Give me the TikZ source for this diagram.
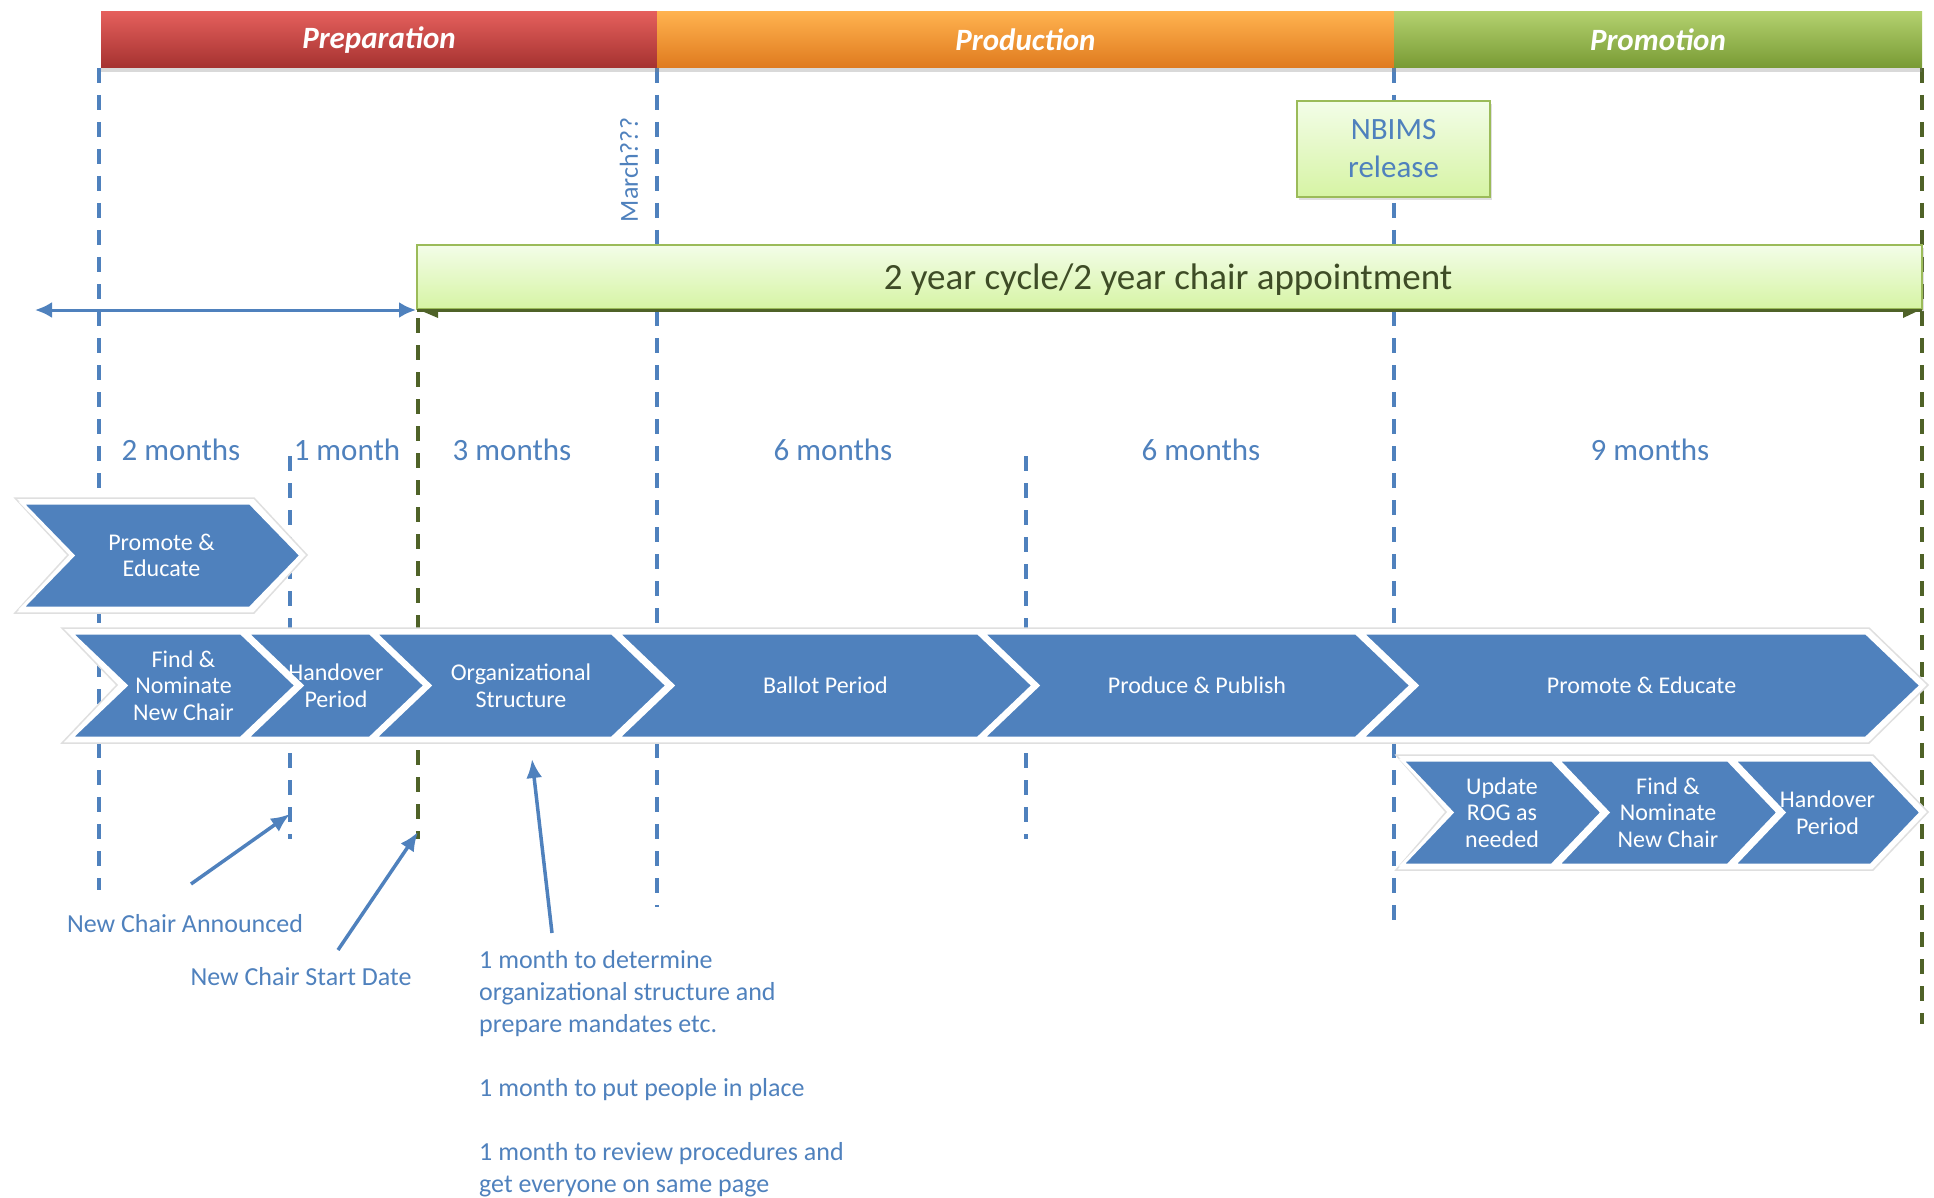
\documentclass[tikz,border=0pt]{standalone}
\usepackage{fontspec}
\setmainfont{Carlito}
\usetikzlibrary{arrows.meta,shadows,calc}
\definecolor{blueC}{HTML}{4F81BD}
\definecolor{oliveD}{HTML}{4F6228}
\definecolor{redT}{HTML}{E45F5C}
\definecolor{redM}{HTML}{C8403D}
\definecolor{redB}{HTML}{A53230}
\definecolor{orT}{HTML}{FFB24F}
\definecolor{orM}{HTML}{F7922E}
\definecolor{orB}{HTML}{DF7A1E}
\definecolor{grT}{HTML}{B3D16E}
\definecolor{grM}{HTML}{97BD4F}
\definecolor{grB}{HTML}{789A34}
\definecolor{lgT}{HTML}{F3FDE8}
\definecolor{lgB}{HTML}{D6F4A4}
\definecolor{lgD}{HTML}{9BBB59}
\definecolor{barText}{HTML}{3E4C26}
\newcommand\chev[7]{% name, x0, x1, ytop, ybot, depth, text
  \path[chev] (#2,#4) -- (#3,#4) -- ({#3+#6},{(#4+#5)/2}) -- (#3,#5) -- (#2,#5) -- ({#2+#6},{(#4+#5)/2}) -- cycle;
  \node[chevtext] (#1) at ({(#2+#3+#6)/2},{(#4+#5)/2}) {#7};
}
\begin{document}
\begin{tikzpicture}[x=1pt,y=-1pt,
  vdash/.style={line width=3.5pt, dash pattern=on 15pt off 12pt},
  bluedash/.style={vdash, draw=blueC},
  greendash/.style={vdash, draw=oliveD},
  phase/.style={draw=none, inner sep=0pt, drop shadow={shadow xshift=0pt,shadow yshift=-4pt,opacity=0.3},
    font=\fontsize{31}{34}\selectfont\bfseries\itshape, text=white, minimum height=56pt},
  chev/.style={fill=blueC, draw=white, line width=3pt, line join=miter},
  chevtext/.style={font=\fontsize{24}{26.5}\selectfont, text=white, align=center, inner sep=0pt},
  rowoutline/.style={draw=gray!25, fill=white, line width=1.5pt, line join=miter},
  lbl/.style={font=\fontsize{31}{36}\selectfont, text=blueC, inner sep=0pt},
  note/.style={font=\fontsize{26}{32}\selectfont, text=blueC, align=left, inner sep=0pt},
  pointer/.style={draw=blueC, line width=3.5pt, -{Latex[length=19pt,width=16pt]}},
  lightbox/.style={top color=lgT, bottom color=lgB, draw=lgD, line width=2pt,
    drop shadow={shadow xshift=2pt,shadow yshift=-3pt,opacity=0.25}},
]
\useasboundingbox (0,0) rectangle (1934,1198);

% vertical dashed guides
\draw[bluedash] (99,68) -- (99,890);
\draw[bluedash] (290,456) -- (290,839);
\draw[greendash] (418,318) -- (418,839);
\draw[bluedash] (657,68) -- (657,907);
\draw[bluedash] (1026,456) -- (1026,839);
\draw[bluedash] (1394,68) -- (1394,931);
\draw[greendash] (1922,68) -- (1922,1024);

% phase bars
\node[phase, minimum width=556pt, top color=redT, middle color=redM, bottom color=redB] (prep) at (379,40) {\raisebox{-2pt}{Preparation}};
\node[phase, minimum width=737pt, top color=orT, middle color=orM, bottom color=orB] (prod) at (1025.5,40) {Production};
\node[phase, minimum width=528pt, top color=grT, middle color=grM, bottom color=grB] (prom) at (1658,40) {Promotion};

% NBIMS release box
\node[lightbox, minimum width=193pt, minimum height=96pt, inner sep=0pt, align=center,
  font=\fontsize{31}{38}\selectfont, text=blueC] (nbims) at (1393.5,149) {NBIMS\\release};

% two-year bar
\node[lightbox, minimum width=1505pt, minimum height=64pt, inner sep=0pt] (twoyear) at (1169.5,277) {};
\node[font=\fontsize{37}{40}\selectfont, text=barText, inner sep=0pt] (twoyeartext) at (1168,280) {2 year cycle/2 year chair appointment};
\draw[oliveD, line width=3pt] (417,310) -- (1922,310);
\fill[oliveD] (417,309) -- (438,309) -- (438,318) -- cycle;
\fill[oliveD] (1903,309) -- (1922,309) -- (1903,318) -- cycle;

% double arrow
\coordinate (dleft) at (35,310);
\draw[blueC, line width=3pt, {Latex[length=17pt,width=16pt]}-{Latex[length=17pt,width=16pt]}] (dleft) -- (twoyear.south west);

% March label
\node[lbl, font=\fontsize{26}{30}\selectfont, rotate=90] (march) at (629,170) {March???};

% month labels
\node[lbl] (m1) at (181,450) {2 months};
\node[lbl] (m2) at (347,450) {1 month};
\node[lbl] (m3) at (512,450) {3 months};
\node[lbl] (m4) at (833,450) {6 months};
\node[lbl] (m5) at (1201,450) {6 months};
\node[lbl] (m6) at (1650,450) {9 months};

% row outlines
\path[rowoutline] (15,498) -- (254,498) -- (307,555) -- (254,613) -- (15,613) -- (68,555) -- cycle;
\path[rowoutline] (62,628) -- (1869,628) -- (1928,685) -- (1869,743) -- (62,743) -- (117,685) -- cycle;
\path[rowoutline] (1396,755) -- (1873,755) -- (1928,812) -- (1873,870) -- (1396,870) -- (1446,812) -- cycle;

% chevrons
\chev{pe1}{22}{250}{503}{608}{51}{Promote \&\\Educate}
\chev{find}{71}{241}{633}{738}{55}{Find \&\\Nominate\\New Chair}
\chev{hand}{247}{370}{633}{738}{55}{Handover\\Period}
\chev{org}{375}{612}{633}{738}{55}{Organizational\\Structure}
\chev{ballot}{618}{978}{633}{738}{55}{Ballot Period}
\chev{produce}{983}{1356}{633}{738}{55}{Produce \& Publish}
\chev{pe2}{1362}{1866}{633}{738}{55}{Promote \& Educate}
\chev{rog}{1402}{1552}{760}{865}{50}{Update\\ROG as\\needed}
\chev{find2}{1558}{1728}{760}{865}{50}{Find \&\\Nominate\\New Chair}
\chev{hand2}{1734}{1871}{760}{865}{50}{Handover\\Period}

% annotations
\node[note] (ncA) at (185,924) {New Chair Announced};
\node[note] (ncS) at (301,977) {New Chair Start Date};
\node[note, anchor=north west] (plan1) at (479,950) {1 month to determine\\organizational structure and\\prepare\ mandates etc.};
\node[note, anchor=north west] (plan2) at (479,1078) {1 month to put people in place};
\node[note, anchor=north west] (plan3) at (479,1142) {1 month to review procedures and\\get everyone on same page};

\coordinate (a1s) at (191,884); \coordinate (a1e) at (290,814);
\coordinate (a2s) at (338,950); \coordinate (a2e) at (418,832);
\coordinate (a3s) at (552,933); \coordinate (a3e) at (532,759);
\draw[pointer] (a1s) -- (a1e);
\draw[pointer] (a2s) -- (a2e);
\draw[pointer] (a3s) -- (a3e);
\end{tikzpicture}
\end{document}
